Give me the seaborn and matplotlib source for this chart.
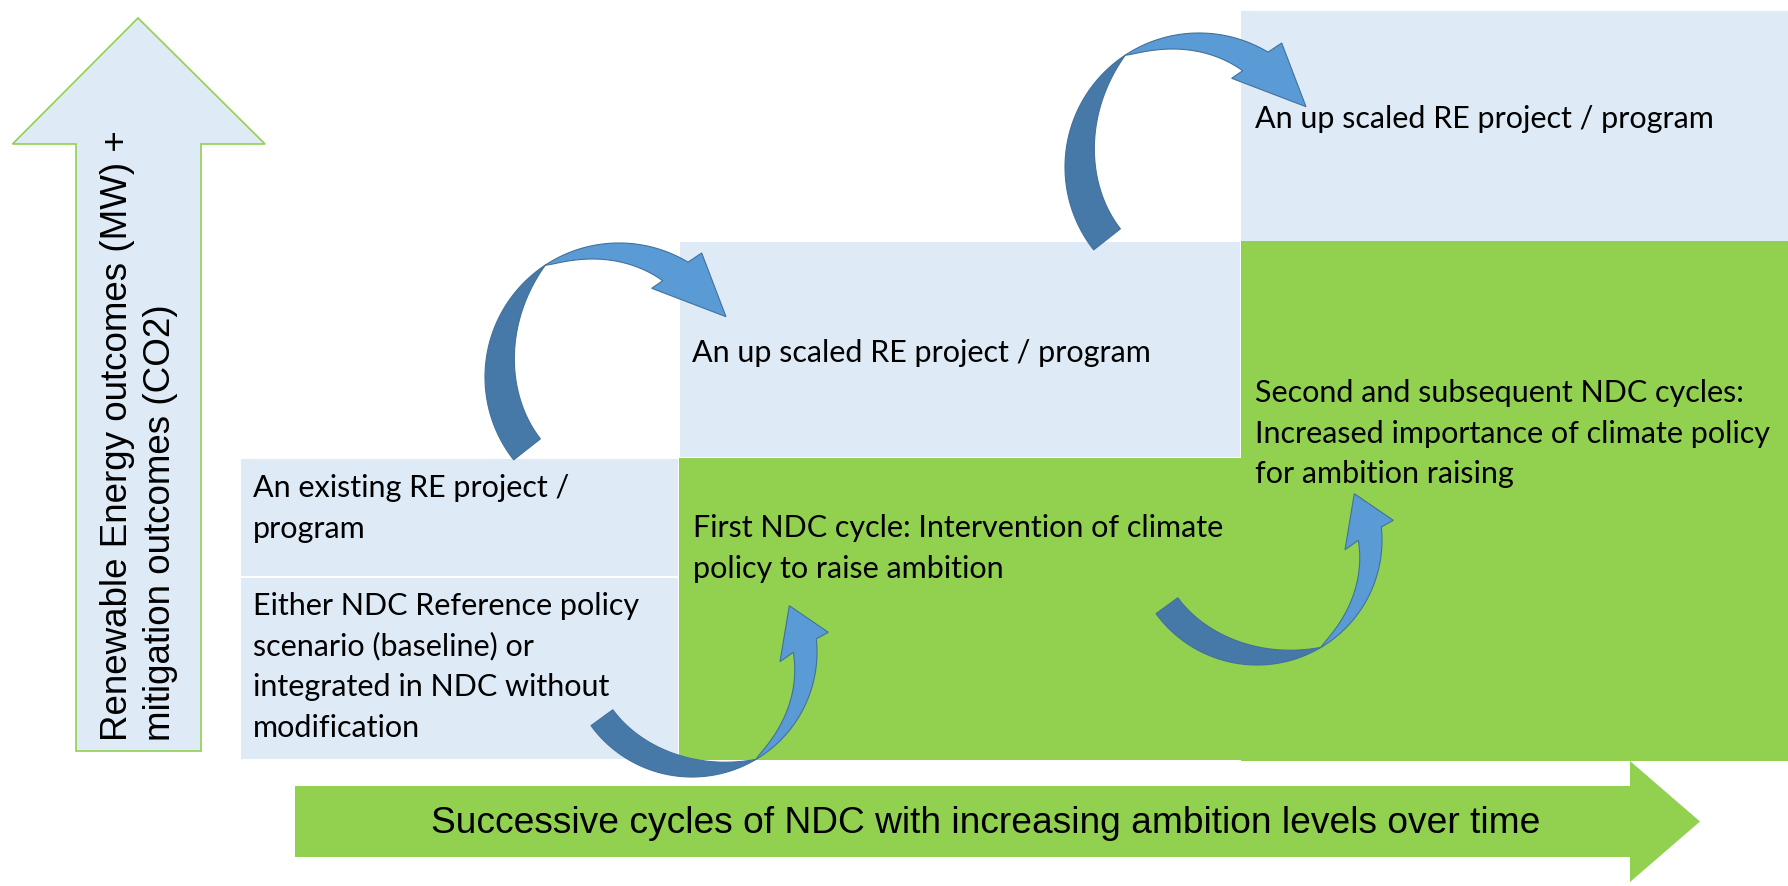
import numpy as np
import matplotlib
matplotlib.use("Agg")
import matplotlib.pyplot as plt
from matplotlib.patches import Rectangle, Polygon
import seaborn as sns

# ---- text content ----
y_arrow_label = ["Renewable Energy outcomes (MW) +", "mitigation outcomes (CO2)"]
x_arrow_label = "Successive cycles of NDC with increasing ambition levels over time"
existing_lines = ["An existing RE project /", "program"]
baseline_lines = ["Either NDC Reference policy", "scenario (baseline) or",
                  "integrated in NDC without", "modification"]
first_cycle_lines = ["First NDC cycle: Intervention of climate", "policy to raise ambition"]
upscaled_1_lines = ["An up scaled RE project / program"]
upscaled_2_lines = ["An up scaled RE project / program"]
second_cycle_lines = ["Second and subsequent NDC cycles:",
                      "Increased importance of climate policy", "for ambition raising"]

# ---- colours ----
BLUE_BOX = "#DEEBF7"
GREEN = "#92D050"
ARROW_DARK = "#4779A8"
ARROW_LIGHT = "#5B9BD5"
ARROW_EDGE = "#41719C"

W, H = 1788, 887
sns.set_theme(style="white")
plt.rcParams["font.family"] = ["Liberation Sans", "DejaVu Sans"]

fig = plt.figure(figsize=(W / 100, H / 100), dpi=100)
ax = fig.add_axes([0, 0, 1, 1])
ax.set_xlim(0, W)
ax.set_ylim(H, 0)
ax.set_axis_off()

# stepped boxes: (x0, x1, y0, y1, colour, white border)
boxes = [
    (240, 679, 459, 578, BLUE_BOX, True),
    (240, 679, 578, 761, BLUE_BOX, True),
    (679, 1241, 242, 459, BLUE_BOX, True),
    (679, 1242, 459, 761, GREEN, False),
    (1241, 1790, 12, 242, BLUE_BOX, False),
    (1241, 1790, 242, 762, GREEN, False),
]
for x0, x1, y0, y1, c, border in boxes:
    ax.add_patch(Rectangle((x0, y0), x1 - x0, y1 - y0, facecolor=c,
                           edgecolor="white" if border else "none",
                           linewidth=1.4, zorder=1))

# vertical block arrow
up = [(138, 19), (265, 145), (201, 145), (201, 752), (76, 752), (76, 145), (12.5, 145)]
ax.add_patch(Polygon(up, closed=True, facecolor=BLUE_BOX, edgecolor=GREEN,
                     linewidth=1.2, zorder=1))
ax.text(139, 741, "\n".join(y_arrow_label), rotation=90, ha="center", va="bottom",
        multialignment="left", fontsize=26.5, linespacing=1.3, color="black", zorder=3)

# horizontal block arrow
right = [(295, 787), (1630, 787), (1630, 762), (1700, 822.5), (1630, 883),
         (1630, 858), (295, 858)]
ax.add_patch(Polygon(right, closed=True, facecolor=GREEN, edgecolor="none", zorder=1))
ax.text(986, 824, x_arrow_label, ha="center", va="center", fontsize=26.7,
        color="black", zorder=3)


# box texts, one line at a time (left x, first baseline)
def put_lines(lines, x, y, step=40.7):
    for i, s in enumerate(lines):
        ax.text(x, y + i * step, s, ha="left", va="baseline", fontsize=22,
                family=["Lato", "DejaVu Sans"], color="black", zorder=3)


put_lines(existing_lines, 253, 497)
put_lines(baseline_lines, 253, 615)
put_lines(first_cycle_lines, 693, 537)
put_lines(upscaled_1_lines, 692, 362)
put_lines(upscaled_2_lines, 1255, 128)
put_lines(second_cycle_lines, 1255, 402)

# ---- twisted curved arrows (ribbon on a circle, y axis points down) ----
# "over" shape: climbs the left side and turns right into the next box
OVER = dict(r=134, a_tail=141.8, a_twist=236.7, a_head=301.0, w_tail=34,
            head=[(82.7, -124), (107, -60.3), (32.7, -88.7), (43.7, -96.3)])
# "under" shape: dips down and turns up into the next box
UNDER = dict(r=125, a_tail=143.9, a_twist=59.1, a_head=-6.0, w_tail=27,
             head=[(136.3, -19.7), (97.3, -46.3), (88, 9.7), (101.3, 0.3)])


def ring(cx, cy, rad, ang):
    a = np.radians(ang)
    return np.column_stack([cx + rad * np.cos(a), cy + rad * np.sin(a)])


def curved_arrow(cx, cy, s):
    r = s["r"]
    # dark back side: full width at the tail, pinched to nothing at the twist
    a_out = np.linspace(s["a_tail"], s["a_twist"], 80)
    f = (a_out - s["a_tail"]) / (s["a_twist"] - s["a_tail"])
    w = s["w_tail"] * (1 - f ** 2.5)
    dark = np.vstack([ring(cx, cy, r, a_out), ring(cx, cy, r - w, a_out)[::-1]])
    ax.add_patch(Polygon(dark, closed=True, facecolor=ARROW_DARK,
                         edgecolor=ARROW_EDGE, linewidth=0.8, zorder=4))
    # light front side: widens from the twist to the head
    a_lo = np.linspace(s["a_twist"], s["a_head"], 80)
    head = np.array(s["head"]) + [cx, cy]
    bx, by = s["head"][-1]
    a_end = np.degrees(np.arctan2(by, bx))
    if s["a_head"] > 300 and a_end < 0:
        a_end += 360
    w_end = r - np.hypot(bx, by)
    a_li = np.linspace(s["a_twist"], a_end, 80)
    g = (a_li - s["a_twist"]) / (a_end - s["a_twist"])
    wl = w_end * g ** 0.75
    light = np.vstack([ring(cx, cy, r, a_lo), head, ring(cx, cy, r - wl, a_li)[::-1]])
    ax.add_patch(Polygon(light, closed=True, facecolor=ARROW_LIGHT,
                         edgecolor=ARROW_EDGE, linewidth=0.8, zorder=4))


curved_arrow(692, 653, UNDER)     # baseline -> first NDC cycle
curved_arrow(1257, 541, UNDER)    # first -> second NDC cycles
curved_arrow(619, 378, OVER)      # existing -> up scaled
curved_arrow(1199, 168, OVER)     # up scaled -> up scaled

fig.savefig("out.png", dpi=100)
